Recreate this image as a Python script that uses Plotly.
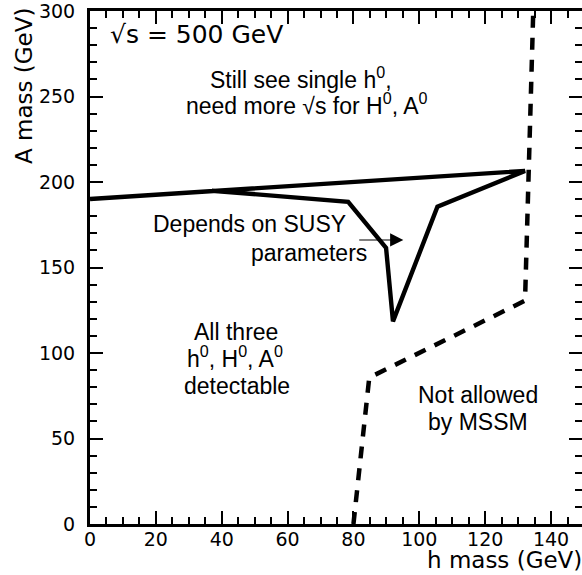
import plotly.graph_objects as go

# Solid boundary (h mass, A mass) in GeV
solid_h = [0, 132.1, 105.5, 92.0, 89.9, 78.4, 37.0]
solid_A = [190.1, 206.5, 185.5, 118.5, 161.5, 188.4, 194.9]

# Dashed MSSM limit
dash_h = [80.0, 84.8, 132.1, 134.6]
dash_A = [0.0, 85.6, 130.6, 300.0]

X_RANGE = [0, 149.4]
Y_RANGE = [0, 300]
X_MAJOR, X_MINOR = 20, 5
Y_MAJOR, Y_MINOR = 50, 10

TICK_FONT = dict(family="DejaVu Sans", size=19, color="black")
TEXT_FONT = dict(family="Liberation Sans", size=23, color="black")

fig = go.Figure()
fig.add_trace(go.Scatter(x=solid_h, y=solid_A, mode="lines",
                         line=dict(color="black", width=4.4),
                         showlegend=False, hoverinfo="skip"))
fig.add_trace(go.Scatter(x=dash_h, y=dash_A, mode="lines", yaxis="y2",
                         line=dict(color="black", width=4.5, dash="12px,10px"),
                         showlegend=False, hoverinfo="skip"))

def minor(d):
    return dict(dtick=d, tick0=0, ticks="inside", ticklen=7,
                tickwidth=2, tickcolor="black", showgrid=False)

fig.update_layout(
    width=582, height=575,
    margin=dict(l=90, r=0, t=8, b=51),
    paper_bgcolor="white", plot_bgcolor="white",
    xaxis=dict(range=X_RANGE, tickmode="linear", tick0=0, dtick=X_MAJOR,
               ticks="inside", ticklen=13, tickwidth=2, tickcolor="black",
               showline=True, linewidth=3, linecolor="black", mirror="ticks",
               showgrid=False, zeroline=False, tickfont=TICK_FONT,
               ticklabelstandoff=-4, ticklabeloverflow="allow",
               minor=minor(X_MINOR)),
    yaxis=dict(range=Y_RANGE, tickmode="linear", tick0=0, dtick=Y_MAJOR,
               ticks="inside", ticklen=13, tickwidth=2, tickcolor="black",
               showline=True, linewidth=3, linecolor="black", mirror=False,
               showgrid=False, zeroline=False, tickfont=TICK_FONT,
               ticklabelstandoff=8, ticklabeloverflow="allow",
               minor=minor(Y_MINOR)),
    yaxis2=dict(range=Y_RANGE, overlaying="y", side="right", tickmode="linear",
                tick0=0, dtick=Y_MAJOR,
                ticks="inside", ticklen=13, tickwidth=2, tickcolor="black",
                showline=False, showticklabels=False, showgrid=False, zeroline=False,
                minor=minor(Y_MINOR)),
)

def px2x(px):
    return (px - 90) / 3.293

def px2y(py):
    return (524 - py) / 1.72

def label(text, cx, cy, font=TEXT_FONT, xanchor="center"):
    fig.add_annotation(x=px2x(cx), y=px2y(cy), xref="x", yref="y", text=text,
                       showarrow=False, font=font, xanchor=xanchor, yanchor="middle")

label("√s = 500 GeV", 108, 31.5, font=dict(family="DejaVu Sans", size=25, color="black"),
      xanchor="left")
label("Still see single h<sup>0</sup>,", 300.5, 75.5)
label("need more √s for H<sup>0</sup>, A<sup>0</sup>", 306.7, 102)
label("Depends on SUSY", 249, 222.5)
label("parameters", 308.5, 251.5)
label("All three", 235.5, 330.5)
label("h<sup>0</sup>, H<sup>0</sup>, A<sup>0</sup>", 235, 356.5)
label("detectable", 237, 385.5)
label("Not allowed", 477.5, 394.5)
label("by MSSM", 478, 421.7)

# Arrow pointing at the boundary
fig.add_annotation(x=px2x(403.3), y=px2y(238.3), ax=px2x(357.7), ay=px2y(238.3),
                   xref="x", yref="y", axref="x", ayref="y", text="",
                   showarrow=True, arrowhead=2, arrowsize=2.4, arrowwidth=1.1,
                   arrowcolor="black")

# Axis titles
fig.add_annotation(x=(23.5 - 90) / 492, y=(524 - 84) / 516, xref="paper", yref="paper",
                   text="A mass (GeV)", textangle=-90, showarrow=False,
                   font=dict(family="DejaVu Sans", size=23, color="black"),
                   xanchor="center", yanchor="middle")
fig.add_annotation(x=(504 - 90) / 492, y=(524 - 560) / 516, xref="paper", yref="paper",
                   text="h mass (GeV)", showarrow=False,
                   font=dict(family="DejaVu Sans", size=23, color="black"),
                   xanchor="center", yanchor="middle")

fig.write_html("out.html", config={"displayModeBar": False},
               post_script="document.body.style.margin='0';document.body.style.overflow='hidden';")
